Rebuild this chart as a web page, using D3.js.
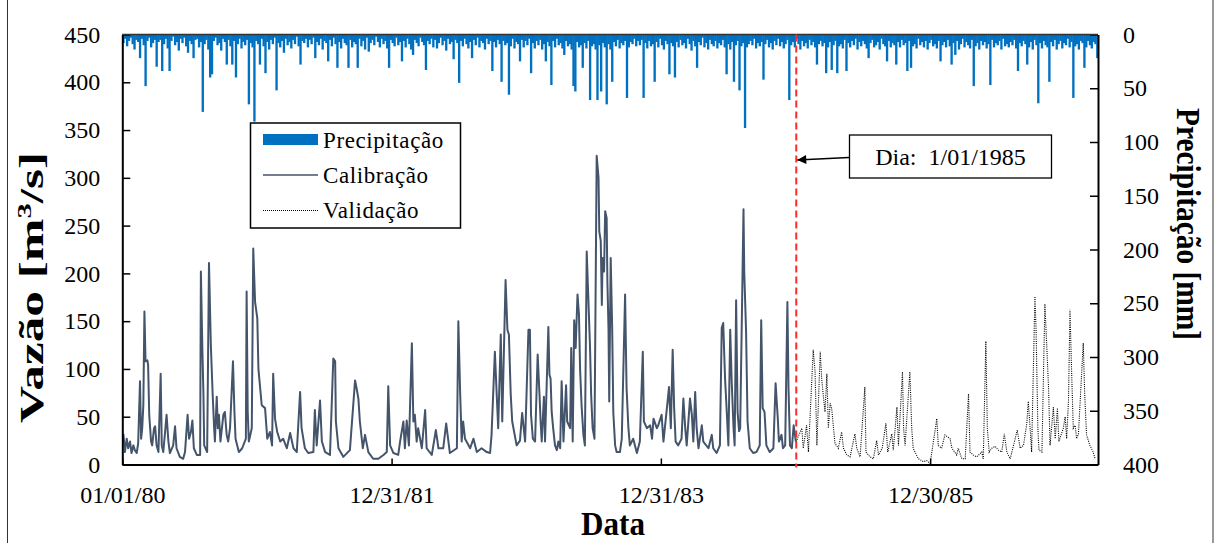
<!DOCTYPE html>
<html><head><meta charset="utf-8">
<script src="https://cdn.jsdelivr.net/npm/d3@7"></script>
<style>
body{margin:0;background:#fff}
svg{display:block}
</style>
</head><body>
<svg id="c" width="1219" height="543"></svg>
<script>
// ---------------- DATA ----------------
const startDate = "1980-01-01";
const endDate = "1987-03-30";
const splitDate = "1985-01-01";
const splitLabel = "Dia:  1/01/1985";
const xTickDates = ["1980-01-01", "1981-12-31", "1983-12-31", "1985-12-30"];
const yLeftTicks = [0, 50, 100, 150, 200, 250, 300, 350, 400, 450];
const yRightTicks = [0, 50, 100, 150, 200, 250, 300, 350, 400];
const legendLabels = ["Precipitação", "Calibração", "Validação"];

// precipitation [mm], one value per 5-day step from startDate
const precipStepDays = 5;
const precipitacao = [
 8,4,11,6,3,9,14,5,7,22,4,10,48,6,3,12,8,5,30,7,
 5,34,9,4,13,34,6,2,10,7,15,4,8,3,11,17,6,9,22,5,
 4,12,7,72,9,5,14,40,37,6,3,10,8,15,4,7,28,5,11,28,
 6,40,9,4,13,7,10,5,65,8,12,81,6,9,28,4,11,36,7,14,
 5,9,3,52,8,12,6,17,4,10,7,13,5,9,2,11,28,6,8,4,
 12,5,9,3,22,7,10,4,14,6,8,25,5,11,3,9,31,7,13,4,
 8,10,31,5,12,7,9,31,4,11,6,14,3,16,8,5,10,2,7,12,
 4,9,6,13,31,5,8,11,3,10,7,25,6,12,4,9,14,19,5,8,
 11,3,7,10,33,6,9,4,12,5,13,8,3,10,6,15,4,9,7,23,
 5,8,45,6,11,4,9,13,7,22,5,10,3,12,6,8,14,4,9,6,
 34,7,12,5,9,44,6,10,8,56,11,4,13,7,9,25,5,12,6,10,
 4,36,8,13,6,10,5,14,9,25,7,11,47,6,12,4,10,8,13,19,
 6,11,9,14,48,53,7,12,10,31,8,13,6,61,11,9,14,61,10,53,
 8,12,65,9,14,44,7,11,5,13,8,10,6,59,12,7,9,4,11,6,
 10,5,59,8,13,6,11,9,44,7,12,4,10,14,6,9,37,8,11,40,
 7,12,5,10,8,13,4,9,15,6,11,31,7,10,3,12,8,14,5,9,
 11,6,13,8,10,5,12,37,9,14,7,44,10,6,52,11,8,87,12,9,
 6,10,4,13,8,11,7,42,9,5,12,8,14,6,10,4,11,7,13,9,
 5,61,10,7,12,4,9,14,6,11,8,13,5,10,7,12,28,9,6,11,
 8,36,12,7,33,10,6,36,11,9,13,5,34,8,12,6,10,4,14,7,
 11,6,9,13,22,8,5,12,10,7,14,4,9,11,25,6,12,8,10,28,
 7,12,5,10,8,34,6,31,11,9,13,4,10,7,12,6,14,8,5,11,
 9,13,6,25,10,7,12,5,11,28,8,19,6,14,9,4,12,7,10,13,
 5,48,11,8,14,6,10,7,13,9,47,5,12,8,10,6,14,4,11,9,
 12,7,10,5,13,34,8,11,6,9,28,12,7,14,5,10,64,8,13,6,
 10,12,44,7,11,5,14,9,6,13,8,10,4,12,7,59,11,9,14,6,
 8,31,12,6,10,13,7,9,22
];

// discharge [m3/s]: [days since startDate, value]
const calibracao = [
[3,32],[7,13],[12,27],[16,17],[21,24],[25,12],[30,20],[34,15],[39,12],[43,22],[48,87],[51,27],[54,38],[57,62],[60,160],[63,108],[68,109],[70,104],[73,52],[78,24],[81,20],[86,38],[89,40],[93,20],[98,13],[104,95],[107,20],[111,13],[116,34],[120,52],[125,24],[129,12],[138,20],[143,40],[147,17],[156,8],[165,6],[170,13],[177,52],[181,27],[186,34],[190,46],[194,17],[202,10],[211,10],[213,202],[217,122],[220,73],[222,20],[230,13],[235,211],[240,125],[245,73],[249,38],[251,24],[256,71],[259,38],[262,52],[266,24],[274,52],[278,55],[283,31],[287,24],[292,38],[297,81],[300,108],[304,55],[307,27],[316,13],[325,17],[335,27],[337,181],[340,55],[343,24],[351,38],[355,226],[360,170],[366,153],[369,100],[378,62],[387,59],[393,27],[400,34],[406,20],[409,95],[414,48],[420,34],[428,24],[436,27],[446,17],[455,33],[464,17],[473,13],[482,76],[486,38],[495,17],[504,12],[518,13],[522,57],[527,20],[536,67],[541,24],[550,13],[563,10],[572,111],[577,108],[579,45],[586,17],[599,8],[617,15],[631,88],[635,80],[640,69],[644,45],[652,17],[658,31],[667,13],[680,6],[694,6],[708,10],[717,13],[721,82],[726,20],[735,12],[748,10],[753,24],[762,45],[766,17],[771,46],[777,20],[785,127],[789,45],[793,52],[798,24],[802,38],[812,17],[821,57],[825,17],[839,10],[850,36],[857,17],[870,17],[878,43],[888,12],[907,17],[911,150],[916,73],[920,24],[924,45],[929,27],[943,17],[952,27],[961,13],[974,17],[988,13],[997,12],[1001,31],[1010,118],[1015,73],[1019,38],[1026,136],[1030,45],[1039,193],[1044,141],[1048,136],[1053,73],[1057,45],[1069,20],[1078,25],[1084,54],[1092,24],[1101,141],[1105,141],[1108,52],[1113,27],[1119,24],[1126,115],[1131,73],[1134,45],[1137,24],[1143,71],[1146,24],[1155,144],[1158,94],[1161,90],[1164,55],[1168,38],[1173,20],[1178,15],[1182,24],[1187,17],[1191,87],[1196,24],[1203,83],[1206,45],[1214,38],[1217,122],[1221,24],[1225,151],[1229,122],[1234,178],[1238,157],[1241,100],[1245,62],[1250,31],[1254,20],[1259,223],[1263,178],[1268,122],[1271,73],[1275,38],[1280,27],[1286,323],[1291,300],[1293,244],[1297,234],[1300,167],[1302,216],[1306,202],[1309,265],[1313,258],[1315,192],[1318,143],[1320,66],[1324,216],[1328,143],[1331,55],[1336,20],[1340,13],[1349,13],[1354,27],[1363,178],[1367,80],[1372,38],[1376,20],[1385,27],[1395,12],[1403,24],[1411,118],[1414,45],[1422,38],[1431,41],[1436,27],[1440,48],[1449,38],[1453,41],[1462,52],[1467,24],[1479,69],[1482,81],[1487,38],[1492,120],[1496,59],[1500,24],[1507,20],[1516,27],[1521,69],[1526,38],[1530,20],[1539,69],[1544,52],[1548,24],[1553,76],[1557,38],[1562,17],[1571,41],[1575,24],[1589,17],[1598,31],[1602,17],[1611,12],[1620,20],[1625,143],[1629,148],[1634,90],[1639,52],[1643,20],[1648,141],[1652,87],[1657,38],[1660,20],[1664,172],[1668,55],[1672,35],[1675,38],[1684,267],[1686,202],[1691,139],[1695,45],[1701,17],[1710,12],[1719,13],[1728,20],[1732,151],[1736,59],[1741,55],[1746,20],[1755,13],[1765,17],[1771,85],[1777,48],[1780,24],[1787,31],[1791,17],[1797,20],[1803,170],[1806,80],[1810,20],[1815,17],[1820,41],[1826,24]
];
const validacao = [
[1826,24],[1828,25],[1842,38],[1846,17],[1855,41],[1860,13],[1873,120],[1878,97],[1883,20],[1892,118],[1896,90],[1900,73],[1905,55],[1910,95],[1914,38],[1919,64],[1923,59],[1928,38],[1932,22],[1941,17],[1950,34],[1955,17],[1964,10],[1973,8],[1986,32],[1991,17],[2000,8],[2013,81],[2016,13],[2027,8],[2036,6],[2045,25],[2050,10],[2060,17],[2070,43],[2075,13],[2086,32],[2090,15],[2100,60],[2104,20],[2115,97],[2118,38],[2122,20],[2135,97],[2140,38],[2144,17],[2158,6],[2172,3],[2181,4],[2190,1],[2208,48],[2212,20],[2221,17],[2230,31],[2244,27],[2249,17],[2262,10],[2266,17],[2276,6],[2285,6],[2294,74],[2298,13],[2307,10],[2316,8],[2330,13],[2334,6],[2341,129],[2345,38],[2350,13],[2357,17],[2366,19],[2375,15],[2384,13],[2391,32],[2398,13],[2407,6],[2416,20],[2426,36],[2434,17],[2443,20],[2452,43],[2456,66],[2461,38],[2465,13],[2474,176],[2477,143],[2482,38],[2485,15],[2493,13],[2501,168],[2506,125],[2511,80],[2515,20],[2524,60],[2529,27],[2535,59],[2539,24],[2551,38],[2556,50],[2560,27],[2565,67],[2569,162],[2574,90],[2578,38],[2583,41],[2587,27],[2592,32],[2605,127],[2609,73],[2614,31],[2623,20],[2632,13],[2637,6]
];

// ---------------- FONT ----------------
function pickFont(cands) {
  const c = document.createElement("canvas").getContext("2d");
  const s = "Precipitação Vazão 0123456789 [m/s] Data";
  c.font = "24px monospace";
  const base = c.measureText(s).width;
  for (const f of cands) {
    c.font = `24px "${f}", monospace`;
    if (Math.abs(c.measureText(s).width - base) > 0.5) return `"${f}"`;
  }
  return "serif";
}
const FF = pickFont(["Liberation Serif", "Tinos", "Times New Roman", "Times", "Nimbus Roman", "DejaVu Serif"]) + ", serif";

// ---------------- DRAW ----------------
const svg = d3.select("#c").style("font-family", FF);
const P = {left: 122.3, right: 1098, top: 34.5, bottom: 464.5};
const parse = d3.utcParse("%Y-%m-%d");
const t0 = parse(startDate);
const dayDate = d => d3.utcDay.offset(t0, d);

const x = d3.scaleUtc().domain([t0, parse(endDate)]).range([P.left, P.right]);
const yL = d3.scaleLinear().domain([0, 450]).range([P.bottom, P.top]);
const yR = d3.scaleLinear().domain([0, 400]).range([P.top, P.bottom]);

// outer frame
svg.append("rect").attr("x", 7.5).attr("y", -1).attr("width", 1205.5).attr("height", 545)
  .attr("fill", "none").attr("stroke", "#333").attr("stroke-width", 1);

svg.append("defs").append("clipPath").attr("id", "clip")
  .append("rect").attr("x", P.left).attr("y", P.top).attr("width", P.right - P.left).attr("height", P.bottom - P.top);

const gPlot = svg.append("g").attr("clip-path", "url(#clip)");

// precipitation bars hanging from top
const barW = x(dayDate(precipStepDays)) - x(t0);
gPlot.append("g").selectAll("rect").data(precipitacao).join("rect")
  .attr("x", (v, i) => x(dayDate(i * precipStepDays)))
  .attr("y", yR(0))
  .attr("width", barW + 0.5)
  .attr("height", v => yR(v) - yR(0))
  .attr("fill", "#0070C0");

const line = d3.line().x(d => x(dayDate(d[0]))).y(d => yL(d[1]));
gPlot.append("path").datum(calibracao).attr("d", line)
  .attr("fill", "none").attr("stroke", "#44546A").attr("stroke-width", 2).attr("stroke-linejoin", "round");
gPlot.append("path").datum(validacao).attr("d", line)
  .attr("fill", "none").attr("stroke", "#000").attr("stroke-width", 1.1).attr("stroke-dasharray", "1,1.2");

// axes
function styleAxis(g) {
  g.attr("font-family", null).attr("font-size", 24).style("font-family", FF);
  g.selectAll(".tick line").attr("stroke", "#000").attr("stroke-width", 1.5);
  g.select(".domain").attr("stroke", "#000").attr("stroke-width", 2);
  g.selectAll("text").attr("fill", "#000");
}
svg.append("g").attr("transform", `translate(${P.left},0)`)
  .call(d3.axisLeft(yL).tickValues(yLeftTicks).tickSize(-8).tickSizeOuter(0).tickPadding(22).tickFormat(d3.format("d")))
  .call(styleAxis);
svg.append("g").attr("transform", `translate(${P.right},0)`)
  .call(d3.axisRight(yR).tickValues(yRightTicks).tickSize(-8).tickSizeOuter(0).tickPadding(25).tickFormat(d3.format("d")))
  .call(styleAxis);
svg.append("g").attr("transform", `translate(0,${P.bottom})`)
  .call(d3.axisBottom(x).tickValues(xTickDates.map(parse)).tickSize(-6).tickSizeOuter(0).tickPadding(21.5).tickFormat(d3.utcFormat("%m/%d/%y")))
  .call(styleAxis);
// top border
svg.append("line").attr("x1", P.left).attr("x2", P.right).attr("y1", P.top).attr("y2", P.top)
  .attr("stroke", "#333").attr("stroke-width", 1.5);

// split line
const xs = x(parse(splitDate));
svg.append("line").attr("x1", xs).attr("x2", xs).attr("y1", P.top).attr("y2", P.bottom + 3)
  .attr("stroke", "#FF2A2A").attr("stroke-width", 2).attr("stroke-dasharray", "7,4");

// annotation
svg.append("defs").append("marker").attr("id", "arr").attr("viewBox", "0 0 10 10")
  .attr("refX", 10).attr("refY", 5).attr("markerWidth", 11).attr("markerHeight", 9)
  .attr("markerUnits", "userSpaceOnUse").attr("orient", "auto")
  .append("path").attr("d", "M0,0L10,5L0,10Z").attr("fill", "#000");
svg.append("line").attr("x1", 849).attr("y1", 157.5).attr("x2", xs + 1).attr("y2", 160)
  .attr("stroke", "#000").attr("stroke-width", 1.5).attr("marker-end", "url(#arr)");
svg.append("rect").attr("x", 849.5).attr("y", 135).attr("width", 202).attr("height", 43)
  .attr("fill", "#fff").attr("stroke", "#000").attr("stroke-width", 1.3);
svg.append("text").attr("x", 950.5).attr("y", 164.5).attr("text-anchor", "middle")
  .attr("font-size", 24).style("white-space", "pre").text(splitLabel);

// legend
const lg = svg.append("g");
lg.append("rect").attr("x", 250.5).attr("y", 123).attr("width", 210).attr("height", 105)
  .attr("fill", "#fff").attr("stroke", "#000").attr("stroke-width", 1.5);
lg.append("rect").attr("x", 263).attr("y", 134).attr("width", 55).attr("height", 11).attr("fill", "#0070C0");
lg.append("line").attr("x1", 263).attr("x2", 318).attr("y1", 175).attr("y2", 175)
  .attr("stroke", "#44546A").attr("stroke-width", 1.6);
lg.append("line").attr("x1", 263).attr("x2", 318).attr("y1", 210.5).attr("y2", 210.5)
  .attr("stroke", "#000").attr("stroke-width", 1).attr("stroke-dasharray", "1,1");
legendLabels.forEach((t, i) => {
  lg.append("text").attr("x", 323).attr("y", 147.5 + i * 35).attr("font-size", 23)
    .attr("letter-spacing", 0.6).text(t);
});

// axis titles (fitted to measured lengths)
function fitted(txt, size, target, base, supIdx) {
  const t = svg.append("text").attr("font-size", size).attr("font-weight", "bold")
    .attr("text-anchor", "middle");
  if (supIdx == null) t.text(txt);
  else {
    t.append("tspan").text(txt.slice(0, supIdx));
    t.append("tspan").attr("font-size", size * 0.6).attr("dy", -size * 0.36).text(txt[supIdx]);
    t.append("tspan").attr("dy", size * 0.36).text(txt.slice(supIdx + 1));
  }
  const w = t.node().getComputedTextLength();
  t.attr("transform", `${base} scale(${target / w},1)`);
  return t;
}
fitted("Vazão [m3/s]", 33, 271, "translate(43,287.5) rotate(-90)", 8);
fitted("Precipitação [mm]", 34, 232, "translate(1177,224) rotate(90)");
fitted("Data", 34, 64, "translate(613,535)");
</script>
</body></html>
